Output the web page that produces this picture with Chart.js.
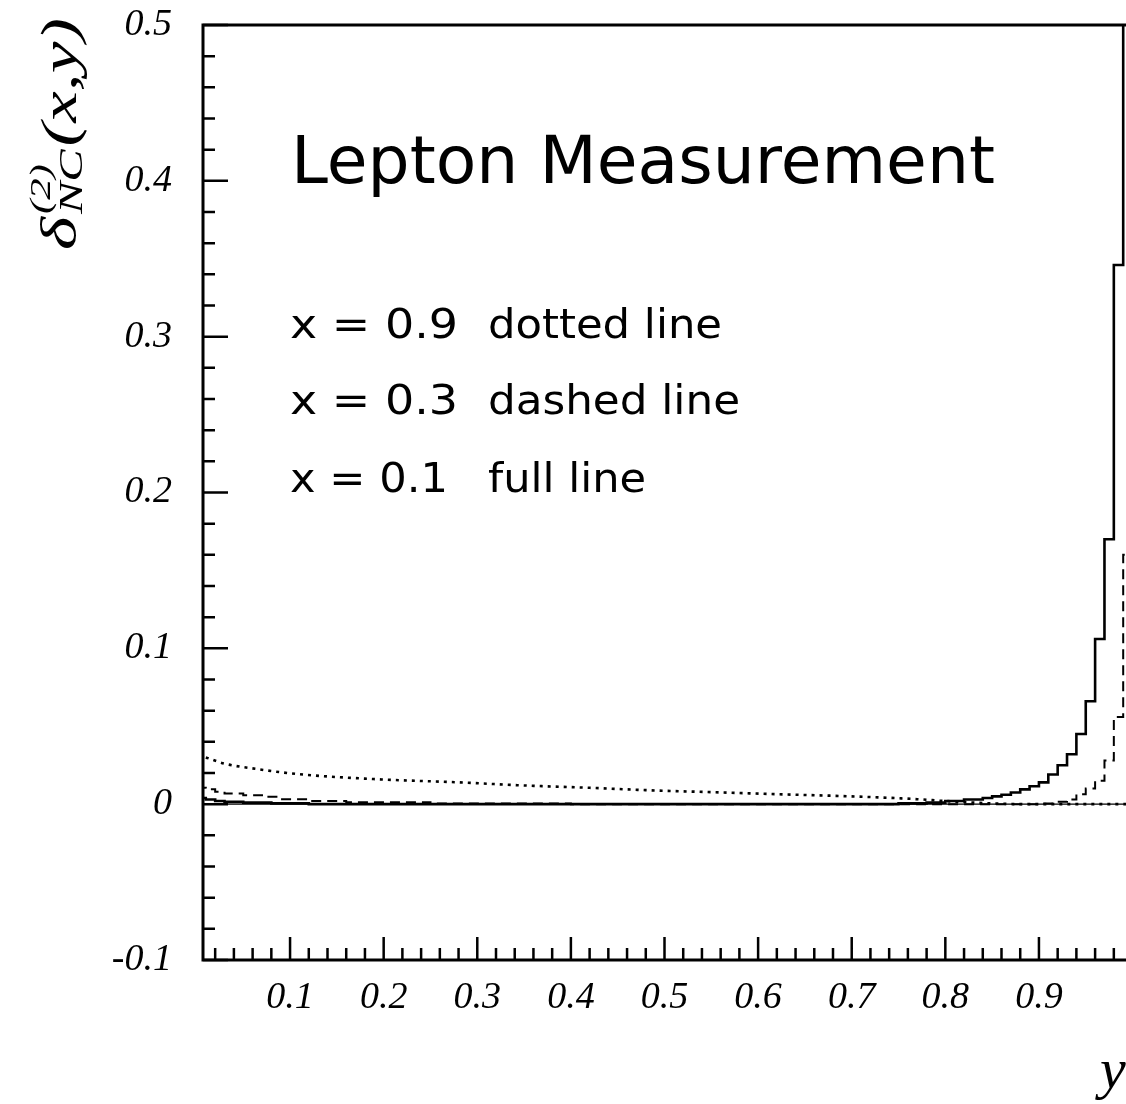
<!DOCTYPE html>
<html>
<head>
<meta charset="utf-8">
<script src="https://cdn.jsdelivr.net/npm/chart.js@4.4.1/dist/chart.umd.min.js"></script>
<style>
  html, body { margin: 0; padding: 0; background: #fff; }
  #wrap { width: 1126px; height: 1104px; position: relative; }
</style>
</head>
<body>
<div id="wrap"><canvas id="chart"></canvas></div>
<script>
// x = 0.1, full line: histogram bin edges and contents
const fullEdges = [0.00, 0.01, 0.02, 0.03, 0.05, 0.08, 0.12, 0.75, 0.78, 0.80, 0.82, 0.84, 0.85, 0.86,
  0.87, 0.88, 0.89, 0.90, 0.91, 0.92, 0.93, 0.94, 0.95, 0.96, 0.97, 0.98, 0.99, 1.00];
const fullVals = [0.004, 0.003, 0.002, 0.0015, 0.001, 0.0005, 0.0, 0.0005, 0.001, 0.002, 0.003, 0.004, 0.005,
  0.006, 0.0075, 0.0095, 0.0115, 0.014, 0.019, 0.025, 0.032, 0.045, 0.066, 0.106, 0.170, 0.346, 0.9];

// x = 0.3, dashed line
const dashEdges = [0.00, 0.01, 0.02, 0.03, 0.05, 0.07, 0.09, 0.12, 0.16, 0.25, 0.40, 0.90, 0.92, 0.93,
  0.94, 0.95, 0.96, 0.97, 0.98, 0.99, 1.00];
const dashVals = [0.0105, 0.0095, 0.008, 0.0068, 0.0058, 0.0047, 0.0032, 0.002, 0.0012, 0.0005, 0.0,
  0.0005, 0.0015, 0.003, 0.0064, 0.010, 0.015, 0.028, 0.056, 0.16];

// x = 0.9, dotted line
const dotX = [0.01, 0.03, 0.065, 0.10, 0.135, 0.20, 0.28, 0.35, 0.42, 0.48, 0.55, 0.62, 0.70, 0.77, 0.80, 0.85, 0.88, 1.00];
const dotY = [0.030, 0.026, 0.0225, 0.0198, 0.018, 0.0158, 0.014, 0.012, 0.0105, 0.009, 0.0077, 0.0064,
  0.005, 0.0032, 0.002, 0.0005, 0.0, 0.0];

const xTicks = [0.1, 0.2, 0.3, 0.4, 0.5, 0.6, 0.7, 0.8, 0.9];
const xTickLabels = ['0.1', '0.2', '0.3', '0.4', '0.5', '0.6', '0.7', '0.8', '0.9'];
const yTicks = [-0.1, 0, 0.1, 0.2, 0.3, 0.4, 0.5];
const yTickLabels = ['-0.1', '0', '0.1', '0.2', '0.3', '0.4', '0.5'];

const legendRows = [
  ['x = 0.9', 'dotted line'],
  ['x = 0.3', 'dashed line'],
  ['x = 0.1', 'full line']
];

const SERIF = '"Liberation Serif", "DejaVu Serif", serif';
const SANS = '"DejaVu Sans", "Noto Sans", sans-serif';

function histPoints(edges, vals) {
  // point at each left edge, last value repeated at the closing edge
  return edges.map((e, i) => ({ x: e, y: vals[Math.min(i, vals.length - 1)] }));
}

// draw text squeezed/stretched to a given width
function fitText(ctx, text, x, y, width) {
  const w = ctx.measureText(text).width;
  ctx.save();
  ctx.translate(x, y);
  ctx.scale(width / w, 1);
  ctx.fillText(text, 0, 0);
  ctx.restore();
}

const framePlugin = {
  id: 'frame',
  beforeDatasetsDraw(chart) {
    const { ctx, chartArea: a, scales: { y } } = chart;
    ctx.save();
    ctx.strokeStyle = '#000';
    ctx.lineWidth = 1.2;
    const y0 = y.getPixelForValue(0);
    ctx.beginPath();
    ctx.moveTo(a.left, y0);
    ctx.lineTo(a.right, y0);
    ctx.stroke();
    ctx.restore();
  },
  afterDatasetsDraw(chart) {
    const { ctx, chartArea: a, scales: { x, y } } = chart;
    ctx.save();
    ctx.strokeStyle = '#000';
    ctx.fillStyle = '#000';

    // frame: left, bottom, top
    ctx.lineWidth = 3;
    ctx.beginPath();
    ctx.moveTo(a.right, a.top);
    ctx.lineTo(a.left, a.top);
    ctx.lineTo(a.left, a.bottom);
    ctx.lineTo(a.right, a.bottom);
    ctx.stroke();

    // ticks pointing inward, minor every 0.02
    ctx.lineWidth = 2.5;
    ctx.beginPath();
    for (let k = -5; k <= 25; k++) {
      const v = k * 0.02;
      const py = y.getPixelForValue(v);
      const len = (k % 5 === 0) ? 25 : 12;
      ctx.moveTo(a.left, py);
      ctx.lineTo(a.left + len, py);
    }
    for (let k = 1; k <= 49; k++) {
      const v = k * 0.02;
      if (v < x.min || v > x.max) continue;
      const px = x.getPixelForValue(v);
      const len = (k % 5 === 0) ? 23 : 12;
      ctx.moveTo(px, a.bottom);
      ctx.lineTo(px, a.bottom - len);
    }
    ctx.stroke();

    // tick labels
    ctx.font = 'italic 38px ' + SERIF;
    ctx.textBaseline = 'middle';
    ctx.textAlign = 'right';
    yTicks.forEach((v, i) => {
      ctx.fillText(yTickLabels[i], 172, y.getPixelForValue(v));
    });
    ctx.textAlign = 'center';
    xTicks.forEach((v, i) => {
      ctx.fillText(xTickLabels[i], x.getPixelForValue(v), 998);
    });

    // x axis title
    ctx.font = 'italic 58px ' + SERIF;
    ctx.textAlign = 'left';
    ctx.textBaseline = 'alphabetic';
    ctx.fillText('y', 1100, 1088);

    // y axis title, rotated
    ctx.save();
    ctx.translate(76, 250);
    ctx.rotate(-Math.PI / 2);
    const big = 'italic 50px ' + SERIF;
    const sup = 'italic 30px ' + SERIF;
    const sub = 'italic 34px ' + SERIF;
    ctx.font = big; const wD = ctx.measureText('δ').width;
    ctx.font = sup; const wS = ctx.measureText('(2)').width;
    ctx.font = sub; const wN = ctx.measureText('NC').width;
    ctx.font = big; const wP = ctx.measureText('(x,y)').width;
    const total = wD + 2 + Math.max(wS, wN) + 2 + wP;
    ctx.scale(232 / total, 1);
    let u = 0;
    ctx.font = big; ctx.fillText('δ', u, 0); u += wD + 2;
    ctx.font = sup; ctx.fillText('(2)', u, -26);
    ctx.font = sub; ctx.fillText('NC', u, 6);
    u += Math.max(wS, wN) + 2;
    ctx.font = big; ctx.fillText('(x,y)', u, 0);
    ctx.restore();

    // title and legend text
    ctx.font = '66px ' + SANS;
    fitText(ctx, 'Lepton Measurement', 291, 183, 704);
    ctx.font = '40px ' + SANS;
    const rowsY = [338, 414, 492];
    const descW = [234, 252, 158];
    const keyW = [168, 168, 158];
    legendRows.forEach((r, i) => {
      fitText(ctx, r[0], 290, rowsY[i], keyW[i]);
      fitText(ctx, r[1], 488, rowsY[i], descW[i]);
    });
    ctx.restore();
  }
};

new Chart(document.getElementById('chart'), {
  type: 'line',
  data: {
    datasets: [
      {
        label: 'x = 0.1',
        data: histPoints(fullEdges, fullVals),
        borderColor: '#000',
        borderWidth: 2.6,
        stepped: 'before',
        pointRadius: 0
      },
      {
        label: 'x = 0.3',
        data: histPoints(dashEdges, dashVals),
        borderColor: '#000',
        borderWidth: 2,
        borderDash: [10, 6],
        stepped: 'before',
        pointRadius: 0
      },
      {
        label: 'x = 0.9',
        data: dotX.map((v, i) => ({ x: v, y: dotY[i] })),
        borderColor: '#000',
        borderWidth: 2.6,
        borderDash: [3, 5],
        cubicInterpolationMode: 'monotone',
        pointRadius: 0
      }
    ]
  },
  options: {
    responsive: true,
    maintainAspectRatio: false,
    animation: false,
    layout: { padding: { left: 203, right: 0, top: 25, bottom: 144 } },
    plugins: { legend: { display: false }, tooltip: { enabled: false } },
    scales: {
      x: { type: 'linear', min: 0.007, max: 0.993, display: false },
      y: { type: 'linear', min: -0.1, max: 0.5, display: false }
    }
  },
  plugins: [framePlugin]
});
</script>
</body>
</html>
